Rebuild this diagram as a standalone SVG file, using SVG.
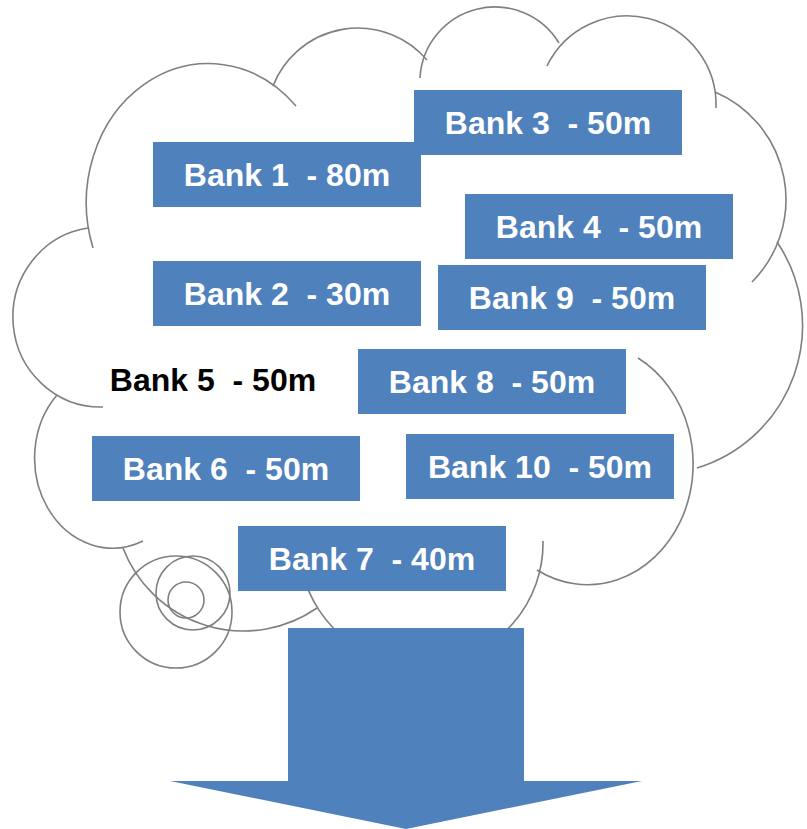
<svg xmlns="http://www.w3.org/2000/svg" width="807" height="829" viewBox="0 0 807 829" xml:space="preserve">
<style>
.cl{fill:none;stroke:#7f7f7f;stroke-width:1.6}
.bx{fill:#4f81bd}
.lb{font-family:"Liberation Sans",Arial,sans-serif;font-weight:bold;font-size:32px;fill:#fff;text-anchor:middle;white-space:pre}
.lk{fill:#000}
</style>
<rect width="807" height="829" fill="#fff"/>
<g id="cloud">
<path class="cl" d="M93,248 A122,139 0 0 1 296,106"/>
<path class="cl" d="M273,86 A91,91 0 0 1 427,60"/>
<path class="cl" d="M420,78 A75,75 0 0 1 559,43"/>
<path class="cl" d="M547,66 A89,89 0 0 1 716,108"/>
<path class="cl" d="M715,92 A117,117 0 0 1 752,282"/>
<path class="cl" d="M777,242 A149,149 0 0 1 697,468"/>
<path class="cl" d="M638,358 A105,120 0 1 1 537,570"/>
<path class="cl" d="M543,541 A122,122 0 0 1 302,570"/>
<path class="cl" d="M123,548 A129,129 0 0 0 317,608"/>
<path class="cl" d="M57,395 A78,90 0 0 0 143,541"/>
<path class="cl" d="M88,228 A88,90 0 0 0 103,407"/>
<circle class="cl" cx="176" cy="612" r="56"/>
<circle class="cl" cx="193" cy="593" r="37"/>
<circle class="cl" cx="186" cy="600" r="18"/>
</g>
<g id="bank3"><rect class="bx" x="414" y="90" width="268" height="65"/><text class="lb" x="548" y="134">Bank 3  - 50m</text></g>
<g id="bank1"><rect class="bx" x="153" y="142" width="268" height="65"/><text class="lb" x="287" y="186">Bank 1  - 80m</text></g>
<g id="bank4"><rect class="bx" x="465" y="194" width="268" height="65"/><text class="lb" x="599" y="238">Bank 4  - 50m</text></g>
<g id="bank2"><rect class="bx" x="153" y="261" width="268" height="65"/><text class="lb" x="287" y="305">Bank 2  - 30m</text></g>
<g id="bank9"><rect class="bx" x="438" y="265" width="268" height="65"/><text class="lb" x="572" y="309">Bank 9  - 50m</text></g>
<g id="bank5"><text class="lb lk" x="213" y="391">Bank 5  - 50m</text></g>
<g id="bank8"><rect class="bx" x="358" y="349" width="268" height="65"/><text class="lb" x="492" y="393">Bank 8  - 50m</text></g>
<g id="bank6"><rect class="bx" x="92" y="436" width="268" height="65"/><text class="lb" x="226" y="480">Bank 6  - 50m</text></g>
<g id="bank10"><rect class="bx" x="406" y="434" width="268" height="65"/><text class="lb" x="540" y="478">Bank 10  - 50m</text></g>
<g id="bank7"><rect class="bx" x="238" y="526" width="268" height="65"/><text class="lb" x="372" y="570">Bank 7  - 40m</text></g>
<g id="connectors">
<polygon class="bx" points="288,628 524,628 524,781 642,781 406,829 170,781 288,781"/>
</g>
</svg>
